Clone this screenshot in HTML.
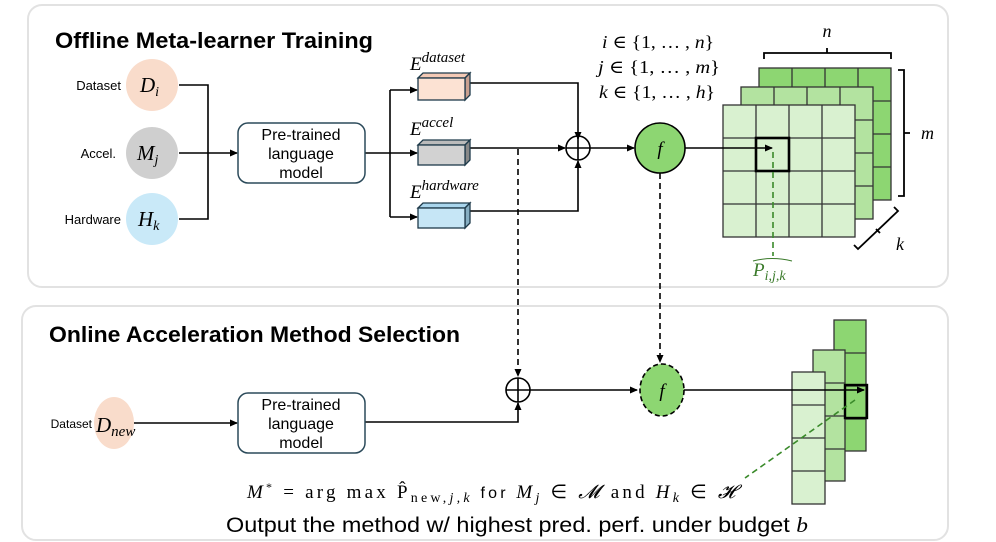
<!DOCTYPE html>
<html><head><meta charset="utf-8"><style>
body{margin:0;background:#fff}
svg{display:block}
.s{font-family:"Liberation Sans","DejaVu Sans",sans-serif}
.m{font-family:"Liberation Serif","DejaVu Serif",serif;font-style:italic}
</style></head><body>
<svg width="996" height="542" viewBox="0 0 996 542" xmlns="http://www.w3.org/2000/svg">
<defs>
<marker id="a" markerWidth="8" markerHeight="8" refX="7" refY="4" orient="auto" markerUnits="userSpaceOnUse"><path d="M0,0.5 L8,4 L0,7.5z" fill="#000"/></marker>
</defs>
<rect x="28" y="5" width="920" height="282" rx="14" fill="#fff" stroke="#e2e2e2" stroke-width="2"/>
<rect x="22" y="306" width="926" height="234" rx="14" fill="#fff" stroke="#e2e2e2" stroke-width="2"/>
<text x="55" y="48" class="s" font-size="22" font-weight="bold" textLength="318" lengthAdjust="spacingAndGlyphs">Offline Meta-learner Training</text>
<text x="49" y="342" class="s" font-size="22" font-weight="bold" textLength="411" lengthAdjust="spacingAndGlyphs">Online Acceleration Method Selection</text>

<text x="121" y="90" class="s" font-size="13" text-anchor="end">Dataset</text>
<text x="116" y="158" class="s" font-size="13" text-anchor="end">Accel.</text>
<text x="121" y="224" class="s" font-size="13" text-anchor="end">Hardware</text>
<circle cx="152" cy="85" r="26" fill="#f9dccb"/>
<circle cx="152" cy="153" r="26" fill="#cfcfcf"/>
<circle cx="152" cy="219" r="26" fill="#c9e9f8"/>
<text x="140" y="92" class="m" font-size="21">D<tspan font-size="14" dy="4">i</tspan></text>
<text x="137" y="160" class="m" font-size="21">M<tspan font-size="14" dy="4">j</tspan></text>
<text x="138" y="226" class="m" font-size="21">H<tspan font-size="14" dy="4">k</tspan></text>
<g stroke="#000" stroke-width="1.6" fill="none">
<path d="M179,85 H208 V219 H179"/>
<path d="M179,153 H237" marker-end="url(#a)"/>
<path d="M365,153 H390"/>
<path d="M390,90 V217"/>
<path d="M390,90 H417" marker-end="url(#a)"/>
<path d="M390,153 H417" marker-end="url(#a)"/>
<path d="M390,217 H417" marker-end="url(#a)"/>
<path d="M470,83 H578 V139" marker-end="url(#a)"/>
<path d="M470,148 H565" marker-end="url(#a)"/>
<path d="M470,211 H578 V161" marker-end="url(#a)"/>
<path d="M590,148 H634" marker-end="url(#a)"/>
<circle cx="578" cy="148" r="12"/><path d="M566,148 H590 M578,136 V160"/>
</g>
<rect x="238" y="123" width="127" height="60" rx="10" fill="#fff" stroke="#2b4a5a" stroke-width="1.5"/>
<text x="301" y="140" class="s" font-size="16" text-anchor="middle">Pre-trained</text>
<text x="301" y="159" class="s" font-size="16" text-anchor="middle">language</text>
<text x="301" y="178" class="s" font-size="16" text-anchor="middle">model</text>

<g stroke="#1e3a4a" stroke-width="1.3">
<path d="M418,78 L423,73 H470 L465,78z" fill="#f3c9b5"/><path d="M465,78 L470,73 V95 L465,100z" fill="#c9a090"/><rect x="418" y="78" width="47" height="22" fill="#fce2d3"/>
<path d="M418,145 L423,140 H470 L465,145z" fill="#bbb"/><path d="M465,145 L470,140 V160 L465,165z" fill="#888"/><rect x="418" y="145" width="47" height="20" fill="#d2d2d2"/>
<path d="M418,208 L423,203 H470 L465,208z" fill="#a9d5ec"/><path d="M465,208 L470,203 V223 L465,228z" fill="#86aec2"/><rect x="418" y="208" width="47" height="20" fill="#c6e6f6"/>
</g>
<text x="410" y="70" class="m" font-size="19">E<tspan font-size="15" dy="-8">dataset</tspan></text>
<text x="410" y="135" class="m" font-size="19">E<tspan font-size="15" dy="-8">accel</tspan></text>
<text x="410" y="198" class="m" font-size="19">E<tspan font-size="15" dy="-8">hardware</tspan></text>

<text x="602" y="48" class="m" font-size="18" textLength="112" lengthAdjust="spacingAndGlyphs">i <tspan font-style="normal">∈ {1, … ,</tspan> n<tspan font-style="normal">}</tspan></text>
<text x="598" y="73" class="m" font-size="18" textLength="122" lengthAdjust="spacingAndGlyphs">j <tspan font-style="normal">∈ {1, … ,</tspan> m<tspan font-style="normal">}</tspan></text>
<text x="599" y="98" class="m" font-size="18" textLength="116" lengthAdjust="spacingAndGlyphs">k <tspan font-style="normal">∈ {1, … ,</tspan> h<tspan font-style="normal">}</tspan></text>

<circle cx="660" cy="148" r="25" fill="#8dd672" stroke="#000" stroke-width="1.6"/>
<text x="660" y="155" class="m" font-size="19" text-anchor="middle">f</text>

<g stroke="#333" stroke-width="1.3">
<rect x="759" y="68" width="132" height="132" fill="#8dd672"/>
<path d="M792,68V200M825,68V200M858,68V200M759,101H891M759,134H891M759,167H891"/>
<rect x="741" y="87" width="132" height="132" fill="#b3e3a0"/>
<path d="M774,87V219M807,87V219M840,87V219M741,120H873M741,153H873M741,186H873"/>
<rect x="723" y="105" width="132" height="132" fill="#d9f1d0"/>
<path d="M756,105V237M789,105V237M822,105V237M723,138H855M723,171H855M723,204H855"/>
</g>
<rect x="756" y="138" width="33" height="33" fill="none" stroke="#000" stroke-width="2.6"/>
<path d="M685,148 H772" stroke="#000" stroke-width="1.6" marker-end="url(#a)"/>
<path d="M773,152 V256" stroke="#3a8a2a" stroke-width="1.6" stroke-dasharray="6,4"/>
<text x="753" y="276" class="m" font-size="19" fill="#3a7a2a">P<tspan font-size="14" dy="4">i,j,k</tspan></text>
<path d="M753,261 Q772,256 792,261" stroke="#3a7a2a" fill="none" stroke-width="1"/>
<g stroke="#000" stroke-width="1.8" fill="none">
<path d="M764,59 V53 H891 V59 M827,53 V48"/>
<path d="M898,70 H904 V196 H898 M904,133 H910"/>
<path d="M854,245 L858,249 L898,211 L894,207 M876,229 L880,233"/>
</g>
<text x="827" y="37" class="m" font-size="18" text-anchor="middle">n</text>
<text x="921" y="139" class="m" font-size="18">m</text>
<text x="896" y="250" class="m" font-size="18">k</text>

<g stroke="#000" stroke-width="1.6" stroke-dasharray="6,4" fill="none">
<path d="M518,149 V376" marker-end="url(#a)"/>
<path d="M660,173 V362" marker-end="url(#a)"/>
</g>

<ellipse cx="114" cy="423" rx="20" ry="26" fill="#f9dccb"/>
<text x="92" y="428" class="s" font-size="12" text-anchor="end">Dataset</text>
<text x="96" y="432" class="m" font-size="21">D<tspan font-size="15" dy="4">new</tspan></text>
<g stroke="#000" stroke-width="1.6" fill="none">
<path d="M134,423 H237" marker-end="url(#a)"/>
<path d="M365,422 H518 V403" marker-end="url(#a)"/>
<circle cx="518" cy="390" r="12"/><path d="M506,390 H530 M518,378 V402"/>
<path d="M530,390 H637" marker-end="url(#a)"/>
</g>
<rect x="238" y="393" width="127" height="60" rx="10" fill="#fff" stroke="#2b4a5a" stroke-width="1.5"/>
<text x="301" y="410" class="s" font-size="16" text-anchor="middle">Pre-trained</text>
<text x="301" y="429" class="s" font-size="16" text-anchor="middle">language</text>
<text x="301" y="448" class="s" font-size="16" text-anchor="middle">model</text>
<ellipse cx="662" cy="390" rx="22" ry="26" fill="#8dd672" stroke="#000" stroke-width="1.6" stroke-dasharray="5,3"/>
<text x="662" y="397" class="m" font-size="19" text-anchor="middle">f</text>

<g stroke="#333" stroke-width="1.3">
<rect x="834" y="320" width="32" height="131" fill="#8dd672"/>
<path d="M834,353H866M834,386H866M834,419H866"/>
<rect x="813" y="350" width="32" height="131" fill="#b3e3a0"/>
<path d="M813,383H845M813,416H845M813,449H845"/>
<rect x="792" y="372" width="33" height="132" fill="#d9f1d0"/>
<path d="M792,405H825M792,438H825M792,471H825"/>
</g>
<path d="M684,390 H864" stroke="#000" stroke-width="1.6" marker-end="url(#a)"/>
<rect x="845" y="385" width="22" height="33" fill="none" stroke="#000" stroke-width="2.4"/>
<path d="M855,400 L745,478" stroke="#3a8a2a" stroke-width="1.6" stroke-dasharray="6,4"/>

<text x="247" y="498" font-family="Liberation Serif,serif" font-size="19" textLength="488" lengthAdjust="spacing"><tspan font-style="italic">M</tspan><tspan font-size="12" dy="-7">*</tspan><tspan dy="7"> = arg max P̂</tspan><tspan font-size="14" dy="4">new,<tspan font-style="italic">j,k</tspan></tspan><tspan dy="-4" font-family="Liberation Sans,sans-serif" font-size="16"> for </tspan><tspan font-style="italic">M</tspan><tspan font-size="14" dy="4" font-style="italic">j</tspan><tspan dy="-4"> ∈ </tspan><tspan font-style="italic">𝓜</tspan><tspan> and </tspan><tspan font-style="italic">H</tspan><tspan font-size="14" dy="4" font-style="italic">k</tspan><tspan dy="-4"> ∈ </tspan><tspan font-style="italic">𝓗</tspan></text>
<text x="226" y="532" class="s" font-size="21" textLength="582" lengthAdjust="spacingAndGlyphs">Output the method w/ highest pred. perf. under budget <tspan font-family="Liberation Serif,serif" font-style="italic">b</tspan></text>
</svg>
</body></html>
